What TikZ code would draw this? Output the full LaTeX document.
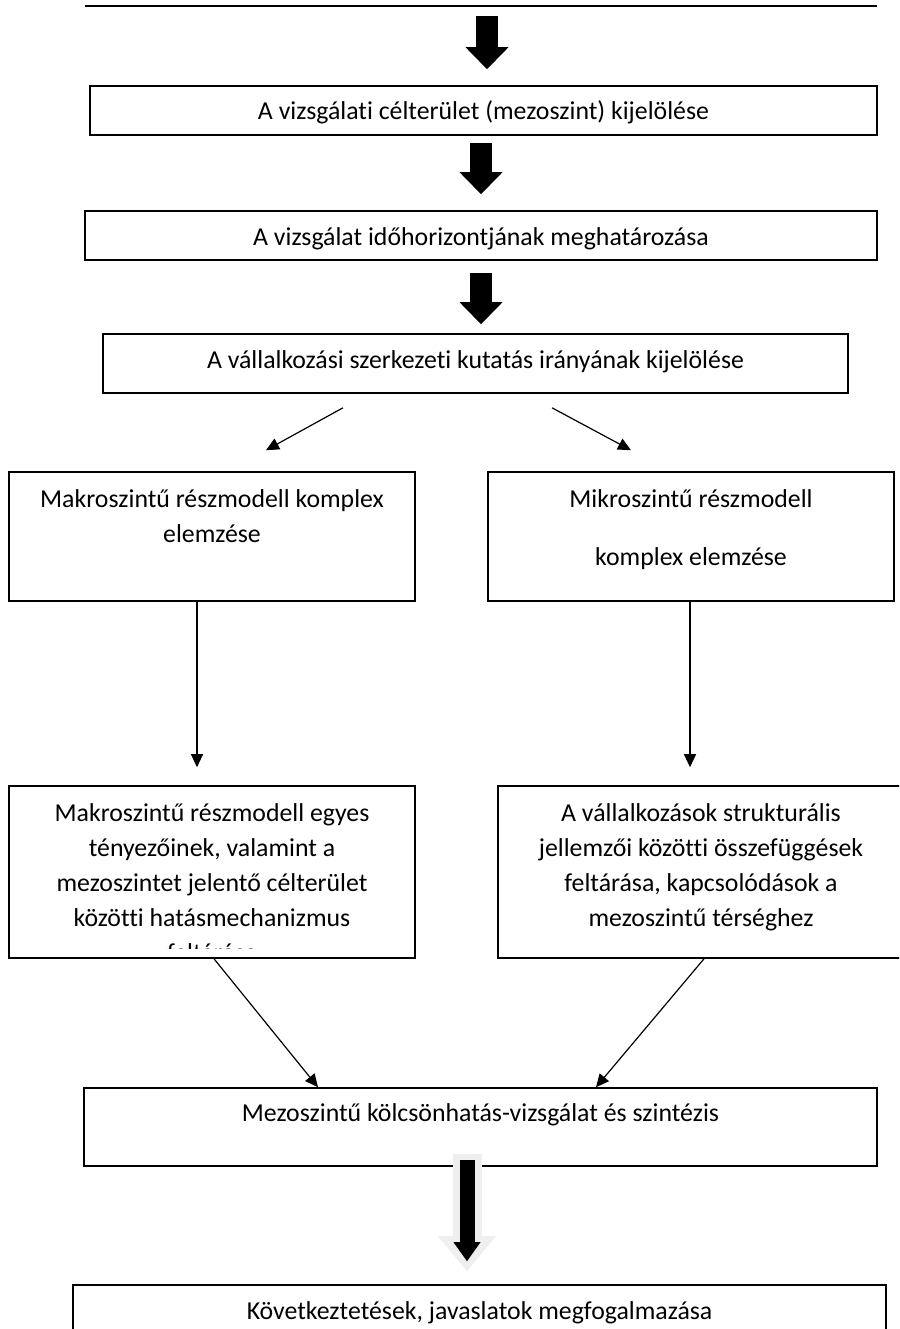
\documentclass[tikz,border=0pt]{standalone}
\usepackage{fontspec}
\setmainfont{Carlito}[Ligatures=NoCommon]
\usetikzlibrary{arrows.meta,calc}
\definecolor{glowgray}{HTML}{EFEFEF}

\begin{document}
\begin{tikzpicture}[x=1pt,y=-1pt,
    frame/.style={draw,line width=1.6pt,inner sep=0pt},
    txt/.style={inner sep=0pt,font=\fontsize{25.8}{35}\selectfont,align=center},
    arr/.style={line width=1.2pt,-{Triangle[width=12pt,length=13pt]}},
    fat/.style={line width=22pt,-{Triangle[width=43pt,length=22pt,line width=0pt]}}]
    \useasboundingbox (0,0) rectangle (899,1329);
    \clip (0,0) rectangle (899,1329);
    % top rule
    \coordinate (ruleL) at (85,6);
    \coordinate (ruleR) at (877,6);
    \coordinate (rulemid) at (487,6);
    \draw[line width=1.5pt] (ruleL) -- (ruleR);
    % boxes
    \node[frame,minimum width=787,minimum height=49] (box1) at (483.5,110.5) {};
    \node[frame,minimum width=792,minimum height=49] (box2) at (481,235.5) {};
    \node[frame,minimum width=745,minimum height=59] (box3) at (475.5,363.5) {};
    \node[frame,minimum width=406,minimum height=129] (makro) at (212,536.5) {};
    \node[frame,minimum width=406,minimum height=129] (mikro) at (691,536.5) {};
    \node[frame,minimum width=406,minimum height=172] (lowleft) at (212,872) {};
    \node[frame,minimum width=406,minimum height=172] (lowright) at (701,872) {};
    \node[frame,minimum width=793,minimum height=78] (meso) at (480.5,1127) {};
    \node[frame,minimum width=813,minimum height=60] (final) at (479.5,1315) {};
    % texts
    \node[txt,anchor=base] (box1txt) at (483.5,120) {A vizsgálati célterület (mezoszint) kijelölése};
    \node[txt,anchor=base] (box2txt) at (481,246) {A vizsgálat időhorizontjának meghatározása};
    \node[txt,anchor=base] (box3txt) at (475.5,368) {A vállalkozási szerkezeti kutatás irányának kijelölése};
    \node[txt,anchor=north] (makrotxt) at (212,482.5) {\strut Makroszintű részmodell komplex\\elemzése};
    \node[txt,anchor=north] (mikrotxt) at (691,482.5) {\strut Mikroszintű részmodell\\[23pt]komplex elemzése};
    \begin{scope}
        \clip ($(lowleft.south west)+(0,-10)$) rectangle (lowleft.north east);
        \node[txt,anchor=north] (lowlefttxt) at (212,796.5) {\strut Makroszintű részmodell egyes\\tényezőinek, valamint a\\mezoszintet jelentő célterület\\közötti hatásmechanizmus\\feltárása};
    \end{scope}
    \node[txt,anchor=north] (lowrighttxt) at (701,796.5) {\strut A vállalkozások strukturális\\jellemzői közötti összefüggések\\feltárása, kapcsolódások a\\mezoszintű térséghez};
    \node[txt,anchor=base] (mesotxt) at (480.5,1121) {Mezoszintű kölcsönhatás-vizsgálat és szintézis};
    \node[txt,anchor=base] (finaltxt) at (479.5,1319) {Következtetések, javaslatok megfogalmazása};
    % thick arrows
    \draw[fat,shorten <=10pt,shorten >=16pt] (rulemid) -- (rulemid |- box1.north);
    \draw[fat,shorten <=7pt,shorten >=16pt] (box2.center |- box1.south) -- (box2.north);
    \draw[fat,shorten <=12pt,shorten >=9pt] (box2.south) -- (box2.south |- box3.north);
    % branches
    \draw[arr] ($(box3.south)+(-132.5,14)$) -- ($(makro.north)+(54,-21)$);
    \draw[arr] ($(box3.south)+(76.5,14)$) -- ($(mikro.north)+(-60,-21)$);
    \coordinate (makrobot) at ($(makro.south)+(-15,0)$);
    \coordinate (mikrobot) at ($(mikro.south)+(-1,0)$);
    \draw[arr,shorten >=18pt] (makrobot) -- (makrobot |- lowleft.north);
    \draw[arr,shorten >=18pt] (mikrobot) -- (mikrobot |- lowright.north);
    \draw[arr] ($(lowleft.south)+(2,0)$) -- ($(meso.north)+(-162.5,0)$);
    \draw[arr] ($(lowright.south)+(3,0)$) -- ($(meso.north)+(115.5,0)$);
    % last arrow with glow
    \coordinate (mesoarr) at ($(meso.south)+(-13.5,0)$);
    \draw[glowgray,line width=29pt,-{Triangle[width=58pt,length=35pt,line width=0pt]},shorten <=-13pt,shorten >=13pt] (mesoarr) -- (mesoarr |- final.north);
    \draw[line width=15pt,-{Triangle[width=27pt,length=19pt,line width=0pt]},shorten <=-7pt,shorten >=23pt] (mesoarr) -- (mesoarr |- final.north);
\end{tikzpicture}
\end{document}
